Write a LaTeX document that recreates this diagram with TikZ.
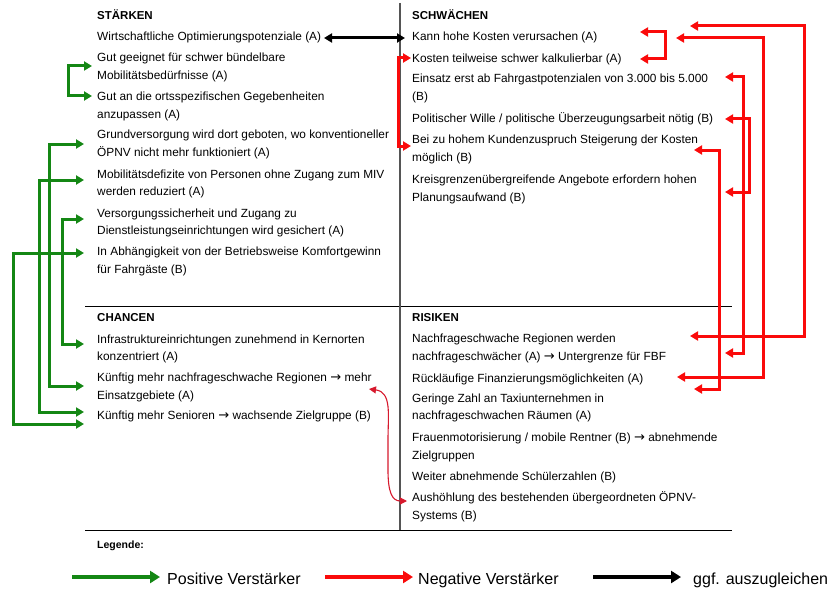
\documentclass[tikz,border=0pt]{standalone}
\usepackage{fontspec}
\setmainfont{Liberation Sans}
\newfontfamily\arrfont{DejaVu Sans}
\usetikzlibrary{arrows.meta}
\definecolor{gr}{RGB}{20,135,20}
\definecolor{rd}{RGB}{250,10,10}
\definecolor{crv}{RGB}{215,25,45}
\definecolor{divc}{RGB}{85,85,85}
\newcommand{\ar}{{\arrfont\fontsize{13}{14}\selectfont →}}
\begin{document}
\begin{tikzpicture}[x=1pt,y=-1pt,
  txt/.style={anchor=base west,inner sep=0pt,font=\fontsize{11.85}{14}\selectfont},
  hd/.style={anchor=base west,inner sep=0pt,font=\fontsize{11.5}{14}\selectfont\bfseries},
  lgtxt/.style={anchor=base west,inner sep=0pt,font=\fontsize{16}{18}\selectfont},
  tipstyle/.style={arrows={Triangle[length=8pt,width=9pt]-Triangle[length=8pt,width=9pt]}},
  garrow/.style={draw=gr,line width=3pt,tipstyle},
  rarrow/.style={draw=rd,line width=3pt,tipstyle},
  barrow/.style={draw=black,line width=3pt,tipstyle},
  carrow/.style={draw=crv,line width=1.1pt,arrows={Triangle[length=7pt,width=7pt]-Triangle[length=7pt,width=7pt]}},
  legarrow/.style={line width=3.8pt,arrows={-Triangle[length=10pt,width=12pt]}},
  rule/.style={draw=black,line width=1pt},
  divline/.style={draw=divc,line width=1.3pt}]
\fill[white] (0,0) rectangle (832,591);
\useasboundingbox (0,0) rectangle (832,591);

% table rules
\coordinate (mL) at (85,306); \coordinate (mR) at (732,306);
\coordinate (bL) at (85,530); \coordinate (bR) at (732,530);
\coordinate (vT) at (400,3);  \coordinate (vB) at (400,530);
\draw[rule] (mL) -- (mR);
\draw[rule] (bL) -- (bR);
\draw[divline] (vT) -- (vB);

% STAERKEN
\node[hd]  (hS)  at (97,20)  {STÄRKEN};
\node[txt] (s1)  at (97,41)  {Wirtschaftliche Optimierungspotenziale (A)};
\node[txt] (s2a) at (97,62)  {Gut geeignet für schwer bündelbare};
\node[txt] (s2b) at (97,80)  {Mobilitätsbedürfnisse (A)};
\node[txt] (s3a) at (97,101) {Gut an die ortsspezifischen Gegebenheiten};
\node[txt] (s3b) at (97,119) {anzupassen (A)};
\node[txt] (s4a) at (97,139) {Grundversorgung wird dort geboten, wo konventioneller};
\node[txt] (s4b) at (97,157) {ÖPNV nicht mehr funktioniert (A)};
\node[txt] (s5a) at (97,178) {Mobilitätsdefizite von Personen ohne Zugang zum MIV};
\node[txt] (s5b) at (97,195) {werden reduziert (A)};
\node[txt] (s6a) at (97,217) {Versorgungssicherheit und Zugang zu};
\node[txt] (s6b) at (97,234) {Dienstleistungseinrichtungen wird gesichert (A)};
\node[txt] (s7a) at (97,255) {In Abhängigkeit von der Betriebsweise Komfortgewinn};
\node[txt] (s7b) at (97,273) {für Fahrgäste (B)};

% SCHWAECHEN
\node[hd]  (hW)  at (412,20)  {SCHWÄCHEN};
\node[txt] (w1)  at (412,41)  {Kann hohe Kosten verursachen (A)};
\node[txt] (w2)  at (412,63)  {Kosten teilweise schwer kalkulierbar (A)};
\node[txt] (w3a) at (412,83)  {Einsatz erst ab Fahrgastpotenzialen von 3.000 bis 5.000};
\node[txt] (w3b) at (412,101) {(B)};
\node[txt] (w4)  at (412,123) {Politischer Wille / politische Überzeugungsarbeit nötig (B)};
\node[txt] (w5a) at (412,143) {Bei zu hohem Kundenzuspruch Steigerung der Kosten};
\node[txt] (w5b) at (412,161) {möglich (B)};
\node[txt] (w6a) at (412,183) {Kreisgrenzenübergreifende Angebote erfordern hohen};
\node[txt] (w6b) at (412,201) {Planungsaufwand (B)};

% CHANCEN
\node[hd]  (hC)  at (97,321)  {CHANCEN};
\node[txt] (c1a) at (97,343)  {Infrastruktureinrichtungen zunehmend in Kernorten};
\node[txt] (c1b) at (97,360)  {konzentriert (A)};
\node[txt] (c2a) at (97,381)  {Künftig mehr nachfrageschwache Regionen \ar{} mehr};
\node[txt] (c2b) at (97,399)  {Einsatzgebiete (A)};
\node[txt] (c3)  at (97,419)  {Künftig mehr Senioren \ar{} wachsende Zielgruppe (B)};

% RISIKEN
\node[hd]  (hR)  at (412,321) {RISIKEN};
\node[txt] (r1a) at (412,342) {Nachfrageschwache Regionen werden};
\node[txt] (r1b) at (412,360) {nachfrageschwächer (A) \ar{} Untergrenze für FBF};
\node[txt] (r2)  at (412,382) {Rückläufige Finanzierungsmöglichkeiten (A)};
\node[txt] (r3a) at (412,402) {Geringe Zahl an Taxiunternehmen in};
\node[txt] (r3b) at (412,419) {nachfrageschwachen Räumen (A)};
\node[txt] (r4a) at (412,441) {Frauenmotorisierung / mobile Rentner (B) \ar{} abnehmende};
\node[txt] (r4b) at (412,459) {Zielgruppen};
\node[txt] (r5)  at (412,480) {Weiter abnehmende Schülerzahlen (B)};
\node[txt] (r6a) at (412,501) {Aushöhlung des bestehenden übergeordneten ÖPNV-};
\node[txt] (r6b) at (412,519) {Systems (B)};

% green connectors
\coordinate (gb1) at (92,66);  \coordinate (gb2) at (92,96);
\draw[garrow] (gb1) -- (68,66) -- (68,96) -- (gb2);
\coordinate (gA1) at (84,144); \coordinate (gA2) at (84,386);
\draw[garrow] (gA1) -- (49,144) -- (49,386) -- (gA2);
\coordinate (gB1) at (84,180); \coordinate (gB2) at (84,412);
\draw[garrow] (gB1) -- (39,180) -- (39,412) -- (gB2);
\coordinate (gC1) at (84,219); \coordinate (gC2) at (84,344);
\draw[garrow] (gC1) -- (62,219) -- (62,344) -- (gC2);
\coordinate (gD1) at (84,253); \coordinate (gD2) at (84,424);
\draw[garrow] (gD1) -- (13,253) -- (13,424) -- (gD2);

% black connector
\coordinate (k1) at (324,38); \coordinate (k2) at (405,38);
\draw[barrow] (k1) -- (k2);

% red connectors
\coordinate (rL1) at (411,58); \coordinate (rL2) at (411,146);
\draw[rarrow] (rL1) -- (398,58) -- (398,146) -- (rL2);
\coordinate (rb1) at (640,32); \coordinate (rb2) at (640,59);
\draw[rarrow] (rb1) -- (665,32) -- (665,59) -- (rb2);
\coordinate (rA1) at (690,26); \coordinate (rA2) at (690,336);
\draw[rarrow] (rA1) -- (804,26) -- (804,336) -- (rA2);
\coordinate (rB1) at (676,38); \coordinate (rB2) at (677,377);
\draw[rarrow] (rB1) -- (763,38) -- (763,377) -- (rB2);
\coordinate (rC1) at (725,77); \coordinate (rC2) at (725,353);
\draw[rarrow] (rC1) -- (743,77) -- (743,353) -- (rC2);
\coordinate (rD1) at (725,119); \coordinate (rD2) at (725,192);
\draw[rarrow] (rD1) -- (749,119) -- (749,192) -- (rD2);
\coordinate (rE1) at (694,150); \coordinate (rE2) at (694,389);
\draw[rarrow] (rE1) -- (719,150) -- (719,389) -- (rE2);

% thin red curve
\coordinate (cv1) at (369,389); \coordinate (cv2) at (407,501);
\draw[carrow] (cv1) .. controls (392,392) and (388,415) .. (388,440) -- (388,470) .. controls (388,492) and (392,501) .. (cv2);

% legend
\node[hd,font=\fontsize{10.5}{12}\selectfont\bfseries] (leg) at (97,548) {Legende:};
\coordinate (lg1) at (72,577);  \coordinate (lg2) at (160,577);
\coordinate (lr1) at (325,577); \coordinate (lr2) at (413,577);
\coordinate (lb1) at (593,577); \coordinate (lb2) at (681,577);
\draw[legarrow,draw=gr,fill=gr] (lg1) -- (lg2);
\draw[legarrow,draw=rd,fill=rd] (lr1) -- (lr2);
\draw[legarrow,draw=black] (lb1) -- (lb2);
\node[lgtxt] (lgt) at (167,584) {Positive Verstärker};
\node[lgtxt] (lrt) at (418,584) {Negative Verstärker};
\node[lgtxt] (lbt) at (693,584) {ggf. auszugleichen};
\end{tikzpicture}
\end{document}
